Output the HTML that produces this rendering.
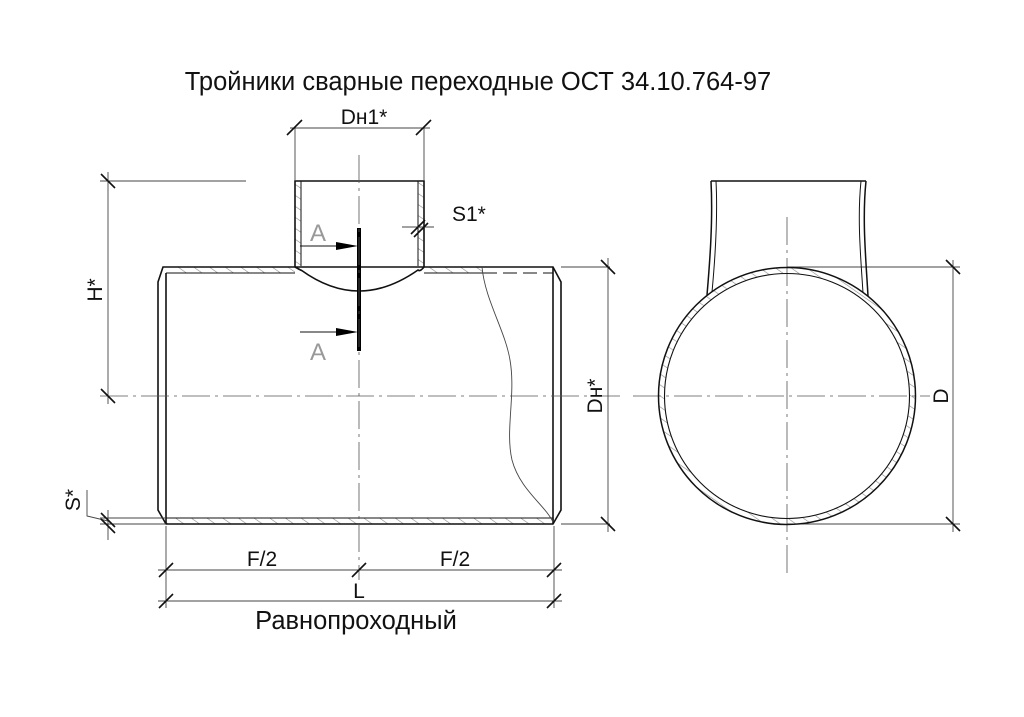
<!DOCTYPE html>
<html><head><meta charset="utf-8"><style>
html,body{margin:0;padding:0;background:#fff;}
svg{display:block}
text{font-family:"Liberation Sans","DejaVu Sans",sans-serif;fill:#111}
</style></head><body>
<svg width="1024" height="717" viewBox="0 0 1024 717" xmlns="http://www.w3.org/2000/svg">
<defs>
<pattern id="h" patternUnits="userSpaceOnUse" width="9" height="9" patternTransform="rotate(-55)">
<line x1="0" y1="0" x2="0" y2="9" stroke="#888" stroke-width="1.2"/>
</pattern>
</defs>
<text x="478" y="90" font-size="25.5" text-anchor="middle">Тройники сварные переходные ОСТ 34.10.764-97</text>

<rect x="171" y="267" width="124" height="6" fill="url(#h)"/>
<rect x="424" y="267" width="59" height="6" fill="url(#h)"/>
<rect x="166" y="518" width="388" height="6" fill="url(#h)"/>
<rect x="295" y="181" width="6" height="86" fill="url(#h)"/>
<rect x="418" y="181" width="6" height="86" fill="url(#h)"/>

<g stroke="#111" stroke-width="1.6" fill="none">
<path d="M163 267 L553 267 L561 282 L561 510 L553 524 L166 524 L158 510 L158 282 Z"/>
<line x1="166" y1="273" x2="166" y2="524"/>
<line x1="553" y1="267" x2="553" y2="524"/>
<line x1="166" y1="273" x2="295" y2="273" stroke-width="1"/>
<line x1="166" y1="518" x2="553" y2="518" stroke-width="1"/>
<path d="M295 267 L295 181 L424 181 L424 267"/>
<line x1="301" y1="181" x2="301" y2="266" stroke-width="1"/>
<line x1="418" y1="181" x2="418" y2="266" stroke-width="1"/>
<path d="M295 267 Q304 272 301 270 Q330 291 359 291 Q388 291 418 270 Q420 272 424 267"/>
<line x1="424" y1="273" x2="483" y2="273" stroke-width="1"/>
</g>
<line x1="483" y1="273" x2="553" y2="273" stroke="#111" stroke-width="1" stroke-dasharray="14 6"/>
<path d="M482 267 C485 300 505 330 510 360 C516 395 505 430 512 460 C520 490 545 505 553 522" stroke="#444" stroke-width="0.9" fill="none"/>

<line x1="359" y1="228" x2="359" y2="351" stroke="#000" stroke-width="4"/>
<g stroke="#111" stroke-width="1">
<line x1="300" y1="246" x2="345" y2="246"/>
<line x1="300" y1="332" x2="345" y2="332"/>
</g>
<path d="M336 242 L358 246 L336 250 Z M336 328 L358 332 L336 336 Z" fill="#000"/>
<text x="318" y="241" font-size="24" text-anchor="middle" style="fill:#999">A</text>
<text x="318" y="360" font-size="24" text-anchor="middle" style="fill:#999">A</text>

<g stroke="#555" stroke-width="0.8" stroke-dasharray="28 5 3 5" fill="none">
<line x1="359" y1="155" x2="359" y2="580"/>
<line x1="100" y1="396" x2="620" y2="396"/>
<line x1="633" y1="396" x2="930" y2="396"/>
<line x1="787" y1="217" x2="787" y2="578"/>
</g>

<g stroke="#444" stroke-width="0.9" fill="none">
<line x1="295" y1="128" x2="295" y2="181"/>
<line x1="424" y1="128" x2="424" y2="181"/>
<line x1="290" y1="128" x2="430" y2="128"/>
<line x1="100" y1="181" x2="246" y2="181"/>
<line x1="108" y1="172" x2="108" y2="404"/>
<line x1="561" y1="267" x2="610" y2="267"/>
<line x1="561" y1="524" x2="610" y2="524"/>
<line x1="608" y1="258" x2="608" y2="532"/>
<line x1="166" y1="526" x2="166" y2="608"/>
<line x1="554" y1="526" x2="554" y2="608"/>
<line x1="158" y1="570" x2="562" y2="570"/>
<line x1="158" y1="601" x2="562" y2="601"/>
<line x1="100" y1="524" x2="166" y2="524"/>
<line x1="100" y1="518" x2="166" y2="518"/>
<line x1="108" y1="510" x2="108" y2="540"/>
<polyline points="87,490 87,516 108,521"/>
<line x1="402" y1="227" x2="434" y2="227"/>
<line x1="787" y1="267" x2="960" y2="267"/>
<line x1="787" y1="524" x2="960" y2="524"/>
<line x1="953" y1="260" x2="953" y2="532"/>
</g>
<g stroke="#111" stroke-width="1.6">
<line x1="287" y1="135" x2="302" y2="120"/>
<line x1="416" y1="135" x2="431" y2="120"/>
<line x1="101" y1="174" x2="115" y2="188"/>
<line x1="101" y1="389" x2="115" y2="403"/>
<line x1="601" y1="260" x2="615" y2="274"/>
<line x1="601" y1="517" x2="615" y2="531"/>
<line x1="159" y1="577" x2="173" y2="563"/>
<line x1="352" y1="577" x2="366" y2="563"/>
<line x1="547" y1="577" x2="561" y2="563"/>
<line x1="159" y1="608" x2="173" y2="594"/>
<line x1="547" y1="608" x2="561" y2="594"/>
<line x1="101" y1="513" x2="115" y2="527"/>
<line x1="101" y1="519" x2="115" y2="533"/>
<line x1="411" y1="234" x2="425" y2="220"/>
<line x1="414" y1="237" x2="428" y2="223"/>
<line x1="946" y1="260" x2="960" y2="274"/>
<line x1="946" y1="517" x2="960" y2="531"/>
</g>

<text x="364" y="124" font-size="21" text-anchor="middle">Dн1*</text>
<text x="452" y="221" font-size="21">S1*</text>
<text x="0" y="0" font-size="21" text-anchor="middle" transform="translate(102 290) rotate(-90)">H*</text>
<text x="0" y="0" font-size="21" text-anchor="middle" transform="translate(602 396) rotate(-90)">Dн*</text>
<text x="0" y="0" font-size="21" text-anchor="middle" transform="translate(80 500) rotate(-90)">S*</text>
<text x="262" y="566" font-size="21" text-anchor="middle">F/2</text>
<text x="455" y="566" font-size="21" text-anchor="middle">F/2</text>
<text x="359" y="598" font-size="21" text-anchor="middle">L</text>
<text x="356" y="629" font-size="25.5" text-anchor="middle">Равнопроходный</text>
<text x="0" y="0" font-size="21" text-anchor="middle" transform="translate(948 396) rotate(-90)">D</text>

<circle cx="787" cy="396" r="125.5" fill="none" stroke="url(#h)" stroke-width="5"/>
<g stroke="#111" stroke-width="1.5" fill="none">
<circle cx="787" cy="396" r="128.5"/>
<circle cx="787" cy="396" r="122.5" stroke-width="1.1"/>
<line x1="711" y1="181" x2="866" y2="181"/>
<path d="M711 181 C713 220 710 260 707 295"/>
<path d="M716 181 C718 220 715 260 712 292" stroke-width="1"/>
<path d="M866 181 C862 220 866 260 868 296"/>
<path d="M861 181 C857 220 861 260 863 293" stroke-width="1"/>
</g>
</svg>
</body></html>
